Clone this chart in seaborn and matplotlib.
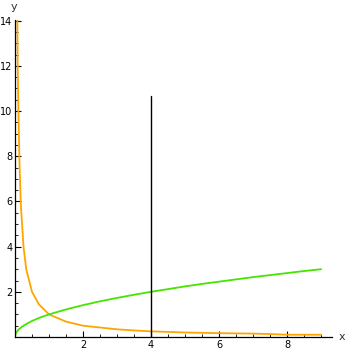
import matplotlib
matplotlib.use("Agg")
import matplotlib.pyplot as plt
import seaborn as sns
import pandas as pd
from matplotlib.ticker import MultipleLocator

sns.set_theme(style="white")
plt.rcParams['font.family'] = ['DejaVu Sans']

orange_x = [0.06, 0.07, 0.08, 0.1, 0.13, 0.17, 0.25, 0.33, 0.5, 0.7, 1.0, 1.5, 2.0, 2.5, 3.0, 3.5, 4.0, 5.0, 6.0, 7.0, 7.5, 8.0, 9.0]
orange_y = [16.0, 14.0, 12.0, 10.0, 7.8, 5.9, 4.0, 3.0, 2.0, 1.45, 1.0, 0.68, 0.5, 0.42, 0.34, 0.29, 0.25, 0.2, 0.17, 0.15, 0.13, 0.1, 0.1]
green_x = [0.0, 0.02, 0.05, 0.1, 0.2, 0.35, 0.5, 0.75, 1.0, 1.5, 2.0, 2.5, 3.0, 3.5, 4.0, 4.5, 5.0, 5.5, 6.0, 6.5, 7.0, 7.5, 8.0, 8.5, 9.0]
green_y = [0.0, 0.14, 0.22, 0.32, 0.45, 0.59, 0.71, 0.87, 1.0, 1.22, 1.41, 1.58, 1.73, 1.87, 2.0, 2.12, 2.24, 2.35, 2.45, 2.55, 2.65, 2.74, 2.83, 2.92, 3.0]
vline_x = [4.0, 4.0]
vline_y = [0.0, 10.65]

df_o = pd.DataFrame({"x": orange_x, "y": orange_y})
df_g = pd.DataFrame({"x": green_x, "y": green_y})
df_v = pd.DataFrame({"x": vline_x, "y": vline_y})

fig = plt.figure(figsize=(3.5, 3.51), dpi=100)
W, H = 350, 351
ax = fig.add_axes([15 / W, (H - 337) / H, (332 - 15) / W, (337 - 20) / H])

sns.lineplot(data=df_o, x="x", y="y", ax=ax, color="#FFA500", lw=1.3, sort=False, estimator=None)
sns.lineplot(data=df_g, x="x", y="y", ax=ax, color="#44E600", lw=1.3, sort=False, estimator=None)
sns.lineplot(data=df_v, x="x", y="y", ax=ax, color="black", lw=1.0, sort=False, estimator=None)

ax.set_xlim(0, 9.32)
ax.set_ylim(0, 14.03)
for s in ["top", "right"]:
    ax.spines[s].set_visible(False)
for s in ["left", "bottom"]:
    ax.spines[s].set_color("black")
    ax.spines[s].set_linewidth(0.9)

ax.xaxis.set_major_locator(MultipleLocator(2))
ax.xaxis.set_minor_locator(MultipleLocator(0.5))
ax.yaxis.set_major_locator(MultipleLocator(2))
ax.yaxis.set_minor_locator(MultipleLocator(0.5))
ax.set_xticks([2, 4, 6, 8])
ax.set_yticks([2, 4, 6, 8, 10, 12, 14])
ax.tick_params(which="major", direction="in", length=4, width=0.8, colors="black",
               labelsize=7, pad=2, bottom=True, left=True)
ax.tick_params(which="minor", direction="in", length=2.5, width=0.6, colors="black",
               bottom=True, left=True)
ax.set_xlabel("")
ax.set_ylabel("")
ax.grid(False)

fig.text(342 / W, 1 - 337 / H, "x", fontsize=8, color="#333333", ha="center", va="center")
fig.text(14 / W, 1 - 7 / H, "y", fontsize=8, color="#333333", ha="center", va="center")

fig.savefig("out.png", dpi=100)
